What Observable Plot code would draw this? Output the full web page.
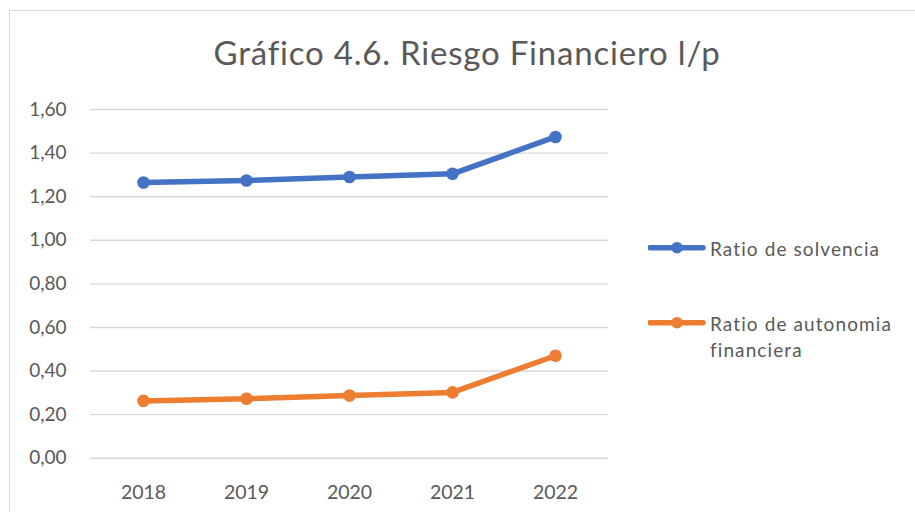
<!DOCTYPE html>
<html><head><meta charset="utf-8">
<script src="https://cdn.jsdelivr.net/npm/d3@7"></script>
<script src="https://cdn.jsdelivr.net/npm/@observablehq/plot@0.6"></script>
<style>
body{margin:0;background:#fff;font-family:Lato,sans-serif;color:#595959;}
#wrap{position:relative;width:915px;height:512px;overflow:hidden;background:#fff;}
#frame{position:absolute;left:9px;top:10px;width:930px;height:530px;border:1.5px solid #d9d9d9;box-sizing:border-box;}
#title{position:absolute;left:9px;width:916px;top:35.7px;text-align:center;font-size:33px;line-height:33px;letter-spacing:0.8px;font-variant-ligatures:none;white-space:nowrap;}
#chart{position:absolute;left:0;top:0;}
.leg{position:absolute;left:648px;font-size:19px;line-height:26px;letter-spacing:1.1px;}
.leg svg{position:absolute;left:0;}
.leg span{position:absolute;left:62px;top:0;white-space:nowrap;font-variant-ligatures:none;}
</style></head>
<body><div id="wrap"><div id="frame"></div><div id="title"></div><div id="chart"></div><div id="legend"></div></div>
<script>
const title = "Gráfico 4.6. Riesgo Financiero l/p";
const years = ["2018","2019","2020","2021","2022"];
const seriesNames = ["Ratio de solvencia","Ratio de autonomia financiera"];
const legendLines = [["Ratio de solvencia"],["Ratio de autonomia","financiera"]];
const solvencia = [1.265, 1.274, 1.29, 1.305, 1.474];
const autonomia = [0.263, 0.273, 0.288, 0.302, 0.470];
const yTicks = [0,0.2,0.4,0.6,0.8,1.0,1.2,1.4,1.6];
const colors = ["#4472C4","#ED7D31"];

document.getElementById("title").textContent = title;

const data = [];
years.forEach((y,i)=>data.push({year:y, value:solvencia[i], series:seriesNames[0]}));
years.forEach((y,i)=>data.push({year:y, value:autonomia[i], series:seriesNames[1]}));

const fmt = d => d3.format(".2f")(d).replace(".", ",");

const chart = Plot.plot({
  width: 620, height: 512,
  marginLeft: 90, marginRight: 12, marginTop: 109, marginBottom: 54.3,
  style: {fontFamily: "Lato, sans-serif", color: "#595959", background: "transparent"},
  x: {type: "point", domain: years, padding: 0.5},
  y: {domain: [0, 1.6]},
  color: {domain: seriesNames, range: colors},
  marks: [
    Plot.gridY(yTicks, {stroke: "#d9d9d9", strokeOpacity: 1, strokeWidth: 1.4}),
    Plot.axisY(yTicks, {tickFormat: fmt, tickSize: 0, tickPadding: 24, fontSize: 19, label: null}),
    Plot.axisX({tickSize: 0, tickPadding: 27, fontSize: 19.5, label: null}),
    Plot.line(data, {x: "year", y: "value", z: "series", stroke: "series", strokeWidth: 5.5, strokeLinejoin: "round", strokeLinecap: "round"}),
    Plot.dot(data, {x: "year", y: "value", fill: "series", r: 6.3})
  ]
});
document.getElementById("chart").appendChild(chart);

// legend
const legend = document.getElementById("legend");
const legTops = [236.3, 311.3];
seriesNames.forEach((s,i)=>{
  const d = document.createElement("div");
  d.className = "leg";
  d.style.top = legTops[i] + "px";
  d.innerHTML = `<svg width="60" height="26" style="top:0"><line x1="2" x2="55" y1="11.7" y2="11.7" stroke="${colors[i]}" stroke-width="5.5" stroke-linecap="round"/><circle cx="29" cy="11.7" r="5.8" fill="${colors[i]}"/></svg><span>${legendLines[i].join("<br>")}</span>`;
  legend.appendChild(d);
});
</script>
</body></html>
